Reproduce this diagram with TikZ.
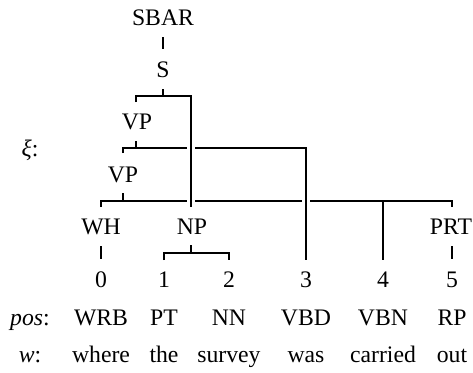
\documentclass[tikz,border=0pt]{standalone}
\usepackage{fontspec}
\setmainfont{Liberation Serif}
\newfontfamily\treefont{Liberation Serif}
\begin{document}
\begin{tikzpicture}[x=0.422pt, y=-0.422pt,
  lab/.style={anchor=base, inner sep=0pt, font=\treefont\fontsize{10}{12}\selectfont},
  edge/.style={line width=0.85pt},
  gapmark/.style={draw=white, line width=3pt}]
\useasboundingbox (0,0) rectangle (473,372);

% constituent labels
\node[lab] (sbar) at (163,25) {SBAR};
\node[lab] (s)    at (163,77) {S};
\node[lab] (vpa)  at (137,129) {VP};
\node[lab] (vpb)  at (123,182) {VP};
\node[lab] (wh)   at (101,234) {WH};
\node[lab] (np)   at (192,234) {NP};
\node[lab] (prt)  at (451,234) {PRT};

% row captions
\node[lab] (xilab)  at (30,156) {\textit{ξ}:};
\node[lab] (poslab) at (30,325) {\textit{pos}:};
\node[lab] (wlab)   at (30,362) {\textit{w}:};

% token positions, tags and words
\foreach \i/\x/\t/\w in {0/101/WRB/where, 1/164/PT/the, 2/229/NN/survey,
                         3/306/VBD/was, 4/383/VBN/carried, 5/452/RP/out}{
  \node[lab] (n\i) at (\x,287) {\i};
  \node[lab] (t\i) at (\x,325) {\t};
  \node[lab] (w\i) at (\x,362) {\w};
}

% junction points of the brackets
\coordinate (sbar-d) at (163,37);  \coordinate (s-u)  at (163,49);
\coordinate (s-d)    at (163,89);  \coordinate (s-j)  at (163,96);
\coordinate (sL)     at (136,96);  \coordinate (sR)   at (191,96);
\coordinate (vpa-u)  at (136,102); \coordinate (np-u) at (191,207);
\coordinate (vpa-d)  at (136,141); \coordinate (vpa-j) at (136,148);
\coordinate (aL)     at (123,148); \coordinate (aR)   at (306,148);
\coordinate (vpb-u)  at (123,153); \coordinate (n3-u) at (306,260);
\coordinate (vpb-d)  at (123,193); \coordinate (vpb-j) at (123,201);
\coordinate (bL)     at (101,201); \coordinate (bM)   at (383,201);
\coordinate (bR)     at (452,201);
\coordinate (wh-u)   at (101,207); \coordinate (prt-u) at (452,207);
\coordinate (n4-u)   at (383,260);
\coordinate (wh-d)   at (101,246); \coordinate (n0-u) at (101,259);
\coordinate (prt-d)  at (452,246); \coordinate (n5-u) at (452,259);
\coordinate (np-d)   at (191,245); \coordinate (np-j) at (191,253);
\coordinate (cL)     at (164,253); \coordinate (cR)   at (229,253);
\coordinate (n1-u)   at (164,260); \coordinate (n2-u) at (229,260);

% SBAR -> S
\draw[edge] (sbar-d) -- (s-u);
% S -> VP, NP
\draw[edge] (s-d) -- (s-j);
\draw[edge] (vpa-u) -- (sL) -- (sR) -- (np-u);
% VP -> VP, was
\draw[edge] (vpa-d) -- (vpa-j);
\draw[edge] (vpb-u) -- (aL) -- (aR) -- (n3-u);
% VP -> WH, carried, PRT
\draw[edge] (vpb-d) -- (vpb-j);
\draw[edge] (wh-u) -- (bL) -- (bR) -- (prt-u);
\draw[edge] (bM) -- (n4-u);
% WH, PRT -> tokens
\draw[edge] (wh-d) -- (n0-u);
\draw[edge] (prt-d) -- (n5-u);
% NP -> the, survey
\draw[edge] (np-d) -- (np-j);
\draw[edge] (n1-u) -- (cL) -- (cR) -- (n2-u);

% breaks in the horizontal bars where long branches pass
\draw[gapmark] (191,144) -- (191,152);
\draw[gapmark] (191,197) -- (191,205);
\draw[gapmark] (306,197) -- (306,205);
\draw[edge] (191,140) -- (np-u);
\draw[edge] (306,190) -- (n3-u);
\end{tikzpicture}
\end{document}
